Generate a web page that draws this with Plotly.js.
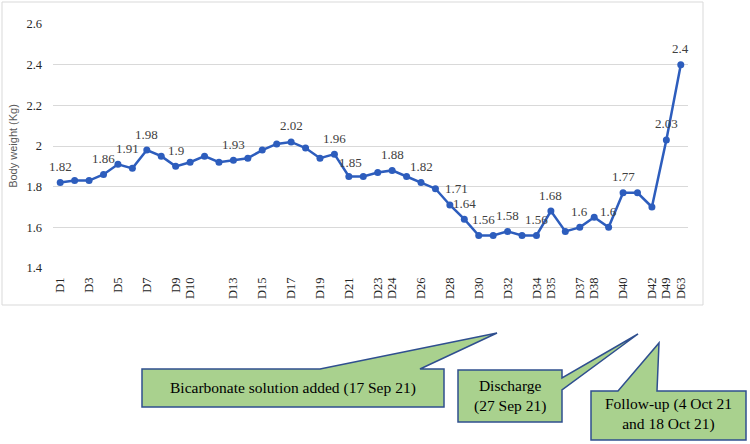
<!DOCTYPE html>
<html>
<head>
<meta charset="utf-8">
<script src="https://cdn.plot.ly/plotly-3.0.1.min.js"></script>
<style>html,body{margin:0;padding:0;background:#fff;}#chart{width:750px;height:444px;}</style>
</head>
<body>
<div id="chart"></div>
<script>
const days = ["D1","D2","D3","D4","D5","D6","D7","D8","D9","D10",
  "D11","D12","D13","D14","D15","D16","D17","D18","D19","D20",
  "D21","D22","D23","D24","D25","D26","D27","D28","D29","D30",
  "D31","D32","D33","D34","D35","D36","D37","D38","D39","D40",
  "D41","D42","D49","D63"];
const weights = [1.82,1.83,1.83,1.86,1.91,1.89,1.98,1.95,1.90,1.92,
  1.95,1.92,1.93,1.94,1.98,2.01,2.02,1.99,1.94,1.96,
  1.85,1.85,1.87,1.88,1.85,1.82,1.79,1.71,1.64,1.56,
  1.56,1.58,1.56,1.56,1.68,1.58,1.60,1.65,1.60,1.77,
  1.77,1.70,2.03,2.40];
const pointLabels = ["1.82","","","1.86","1.91","","1.98","","1.9","",
  "","","1.93","","","","2.02","","","1.96",
  "1.85","","","1.88","","1.82","","1.71","1.64","1.56",
  "","1.58","","1.56","1.68","","1.6","","1.6","1.77",
  "","","2.03","2.4"];
const shownTicks = ["D1","D3","D5","D7","D9","D10","D13","D15","D17","D19","D21","D23","D24",
  "D26","D28","D30","D32","D34","D35","D37","D38","D40","D42","D49","D63"];
const callouts = [
  {text: "Bicarbonate solution added (17 Sep 21)"},
  {text: "Discharge<br>(27 Sep 21)"},
  {text: "Follow-up (4 Oct 21<br>and 18 Oct 21)"}
];

// pixel -> paper helpers (plot area 53..688 x, 24..268 y)
const L = 53, R = 688, T = 24, B = 268;
const px = x => (x - L) / (R - L);
const py = y => (B - y) / (B - T);
function path(pts){ return "M " + pts.map(p => px(p[0]) + "," + py(p[1])).join(" L ") + " Z"; }

const boxes = [
  {pts: [[142,369],[320,369],[497,333],[420,369],[444,369],[444,407],[142,407]], cx: 293, cy: 388},
  {pts: [[458,370],[562,370],[562,378],[638,334],[562,390],[562,422],[458,422]], cx: 510, cy: 396},
  {pts: [[591,391],[618,391],[659,343],[657,391],[746,391],[746,440],[591,440]], cx: 668, cy: 414}
];

const shapes = [
  {type: "rect", xref: "paper", yref: "paper", x0: px(2), x1: px(703), y0: py(305), y1: py(2),
   line: {color: "#d9d9d9", width: 1}, fillcolor: "rgba(0,0,0,0)", layer: "below"}
];
const annotations = [];
boxes.forEach((b, i) => {
  shapes.push({type: "path", xref: "paper", yref: "paper", path: path(b.pts),
    fillcolor: "#a9d18e", line: {color: "#2f4f8f", width: 1.5}, layer: "below"});
  annotations.push({xref: "paper", yref: "paper", x: px(b.cx), y: py(b.cy), showarrow: false,
    xanchor: "center", yanchor: "middle",
    text: callouts[i].text, align: "center",
    font: {family: "Liberation Serif, Times New Roman, serif", size: 15.5, color: "#000"}});
});

// data labels placed at each point through the axes, nudged like the reference
const nudgeX = {4: 10, 27: 7, 29: 5, 20: 2};
pointLabels.forEach((t, i) => {
  if (!t) return;
  annotations.push({xref: "x", yref: "y", x: days[i], y: weights[i], text: t, showarrow: false,
    xanchor: "center", yanchor: "middle", xshift: nudgeX[i] || 0, yshift: i === 20 ? 14 : 16,
    font: {family: "Liberation Serif, Times New Roman, serif", size: 13, color: "#404040"}});
});

const trace = {
  x: days, y: weights, type: "scatter", mode: "lines+markers",
  line: {color: "#2d5dbd", width: 2.5},
  marker: {color: "#2d5dbd", size: 7},
  cliponaxis: false, hoverinfo: "x+y"
};

const layout = {
  width: 750, height: 444,
  margin: {l: L, r: 750 - R, t: T, b: 444 - B},
  paper_bgcolor: "#fff", plot_bgcolor: "#fff",
  showlegend: false,
  xaxis: {type: "category", range: [-0.5, days.length - 0.5], tickmode: "array",
    tickvals: shownTicks, ticktext: shownTicks, tickangle: -90, showgrid: false, zeroline: false,
    showline: false, ticks: "", ticklabelstandoff: 6,
    tickfont: {family: "Liberation Serif, Times New Roman, serif", size: 12.5, color: "#262626"}},
  yaxis: {range: [1.4, 2.6], dtick: 0.2, tick0: 1.4, gridcolor: "#d9d9d9", gridwidth: 1,
    zeroline: false, showline: false, ticks: "", ticklabelstandoff: 10,
    tickfont: {family: "Liberation Serif, Times New Roman, serif", size: 12.5, color: "#262626"},
    title: {text: "Body weight (Kg)", standoff: 6,
      font: {family: "Liberation Sans, Arial, sans-serif", size: 11, color: "#595959"}}},
  shapes: shapes,
  annotations: annotations
};

Plotly.newPlot("chart", [trace], layout, {displayModeBar: false, staticPlot: true});
</script>
</body>
</html>
